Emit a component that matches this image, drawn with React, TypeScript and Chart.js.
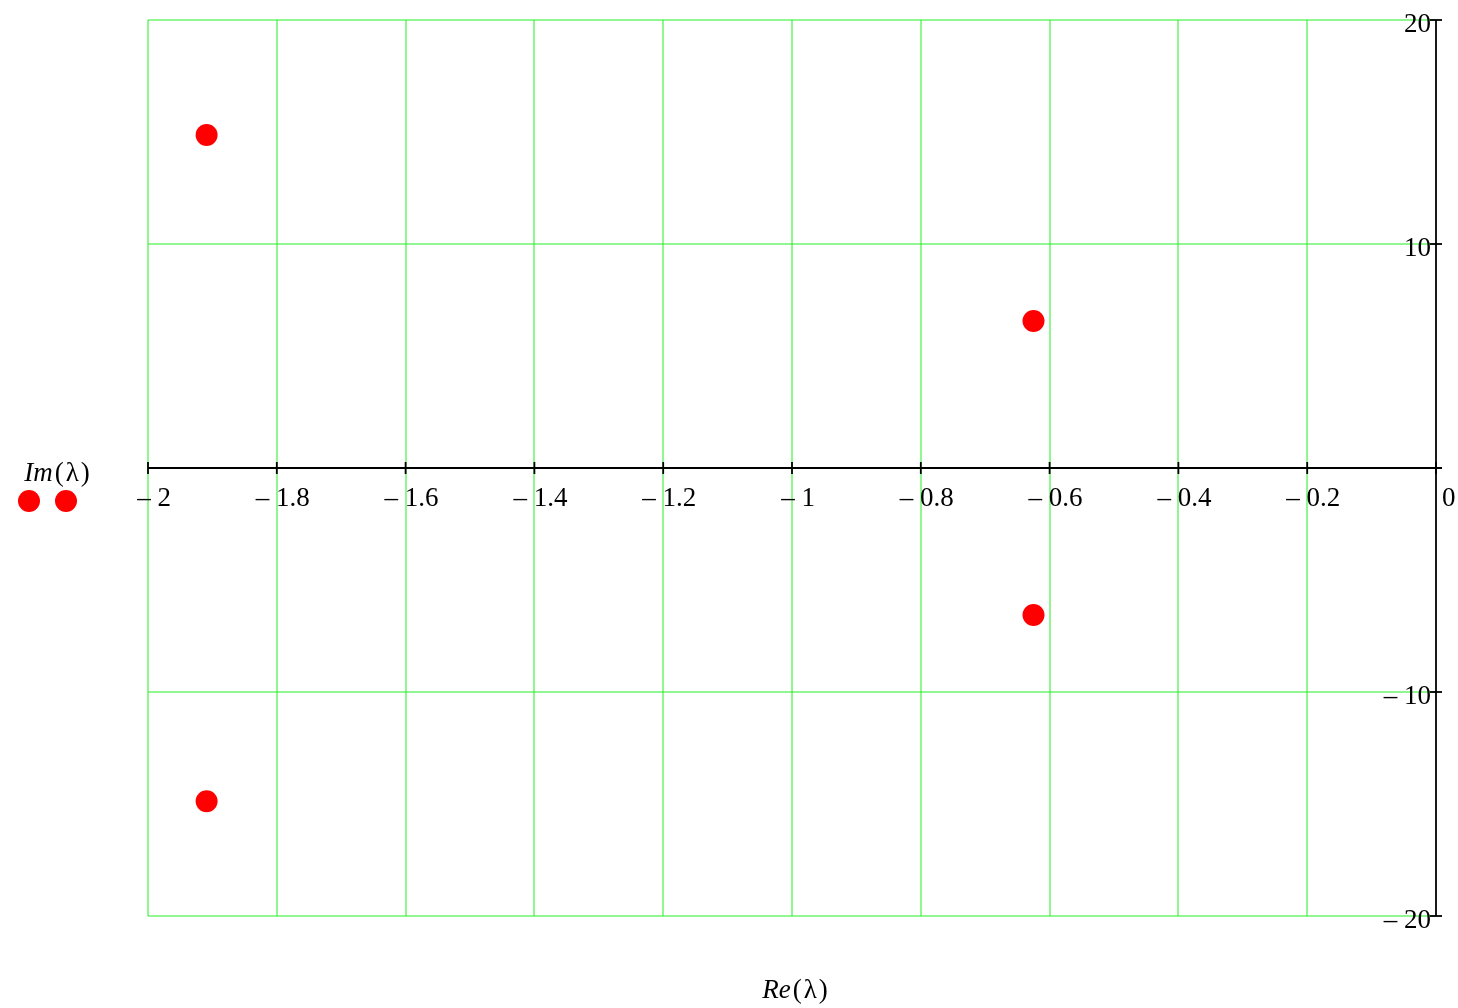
import React, { useEffect, useRef } from "react";
import { Chart, registerables } from "chart.js";

Chart.register(...registerables);

// Eigenvalues λ: real and imaginary parts
const reValues = [-1.909, -0.625, -0.625, -1.909];
const imValues = [14.87, 6.56, -6.56, -14.88];

// Axis ticks
const xTicks = [-2, -1.8, -1.6, -1.4, -1.2, -1, -0.8, -0.6, -0.4, -0.2, 0];
const xTickLabels = ["– 2", "– 1.8", "– 1.6", "– 1.4", "– 1.2", "– 1", "– 0.8", "– 0.6", "– 0.4", "– 0.2", "0"];
const yTicks = [20, 10, -10, -20];
const yTickLabels = ["20", "10", "– 10", "– 20"];

const xTitleItalic = "Re";
const yTitleItalic = "Im";
const titleRest = "(λ)";

const SERIF = '"Liberation Serif", "Times New Roman", serif';

function drawTitle(ctx: any, italic: string, cx: number, baseline: number) {
  const size = 27;
  ctx.font = `italic ${size}px ${SERIF}`;
  const w1 = ctx.measureText(italic).width;
  ctx.font = `${size}px ${SERIF}`;
  const wp = ctx.measureText("(").width;
  const wl = ctx.measureText("λ").width;
  const gap = 2;
  const total = w1 + gap + wp + gap + wl + gap + wp;
  let x = cx - total / 2;
  ctx.textAlign = "left";
  ctx.font = `italic ${size}px ${SERIF}`;
  ctx.fillText(italic, x, baseline);
  x += w1 + gap;
  ctx.font = `${size}px ${SERIF}`;
  ctx.fillText("(", x, baseline);
  x += wp + gap;
  ctx.fillText("λ", x, baseline);
  x += wl + gap;
  ctx.fillText(")", x, baseline);
}

const mathcadPlugin = {
  id: "mathcad",
  beforeDatasetsDraw(chart: any) {
    const ctx = chart.ctx;
    const xs = chart.scales.x;
    const ys = chart.scales.y;
    const area = chart.chartArea;
    ctx.save();
    // green grid
    ctx.strokeStyle = "#22ee22";
    ctx.lineWidth = 1;
    xTicks.forEach((v) => {
      if (v === 0) return;
      const px = Math.round(xs.getPixelForValue(v));
      ctx.beginPath();
      ctx.moveTo(px, area.top);
      ctx.lineTo(px, area.bottom);
      ctx.stroke();
    });
    yTicks.forEach((v) => {
      const py = Math.round(ys.getPixelForValue(v));
      ctx.beginPath();
      ctx.moveTo(area.left, py);
      ctx.lineTo(area.right, py);
      ctx.stroke();
    });
    // black axes
    ctx.strokeStyle = "#000";
    ctx.lineWidth = 1.8;
    const x0 = xs.getPixelForValue(0);
    const y0 = ys.getPixelForValue(0);
    ctx.beginPath();
    ctx.moveTo(area.left, y0);
    ctx.lineTo(x0 + 6, y0);
    ctx.stroke();
    ctx.beginPath();
    ctx.moveTo(x0, area.top);
    ctx.lineTo(x0, area.bottom);
    ctx.stroke();
    // ticks
    xTicks.forEach((v) => {
      const px = xs.getPixelForValue(v);
      ctx.beginPath();
      ctx.moveTo(px, y0 - 6);
      ctx.lineTo(px, y0 + 6);
      ctx.stroke();
    });
    yTicks.forEach((v) => {
      const py = ys.getPixelForValue(v);
      ctx.beginPath();
      ctx.moveTo(x0 - 6, py);
      ctx.lineTo(x0 + 6, py);
      ctx.stroke();
    });
    // tick labels
    ctx.fillStyle = "#000";
    ctx.font = `27px ${SERIF}`;
    ctx.textBaseline = "alphabetic";
    xTicks.forEach((v, i) => {
      const px = xs.getPixelForValue(v);
      if (v === 0) {
        ctx.textAlign = "left";
        ctx.fillText(xTickLabels[i], px + 6, y0 + 38);
      } else {
        ctx.textAlign = "center";
        ctx.fillText(xTickLabels[i], px + 6, y0 + 38);
      }
    });
    ctx.textAlign = "right";
    yTicks.forEach((v, i) => {
      const py = ys.getPixelForValue(v);
      ctx.fillText(yTickLabels[i], x0 - 5, py + 12);
    });
    // axis titles
    drawTitle(ctx, xTitleItalic, (area.left + area.right) / 2 + 3, 998);
    drawTitle(ctx, yTitleItalic, 57, 481);
    // legend markers
    ctx.fillStyle = "#ff0000";
    [29, 66].forEach((cx) => {
      ctx.beginPath();
      ctx.arc(cx, 501, 11, 0, Math.PI * 2);
      ctx.fill();
    });
    ctx.restore();
  },
};

export default function App() {
  const ref = useRef<HTMLCanvasElement>(null);
  useEffect(() => {
    if (!ref.current) return;
    const chart = new Chart(ref.current, {
      type: "scatter",
      data: {
        datasets: [
          {
            label: "Im(λ)",
            data: reValues.map((x, i) => ({ x, y: imValues[i] })),
            backgroundColor: "#ff0000",
            borderColor: "#ff0000",
            pointRadius: 11,
            pointBorderWidth: 0,
            showLine: false,
          },
        ],
      },
      options: {
        animation: false,
        responsive: false,
        devicePixelRatio: 1,
        layout: { padding: { left: 148, right: 22, top: 20, bottom: 92 } },
        plugins: { legend: { display: false }, tooltip: { enabled: false } },
        scales: {
          x: { type: "linear", min: -2, max: 0, display: false },
          y: { type: "linear", min: -20, max: 20, display: false },
        },
      },
      plugins: [mathcadPlugin],
    });
    return () => chart.destroy();
  }, []);
  return (
    <div style={{ position: "fixed", left: 0, top: 0, width: 1458, height: 1008, background: "#fff" }}>
      <canvas ref={ref} width={1458} height={1008} style={{ display: "block" }} />
    </div>
  );
}
